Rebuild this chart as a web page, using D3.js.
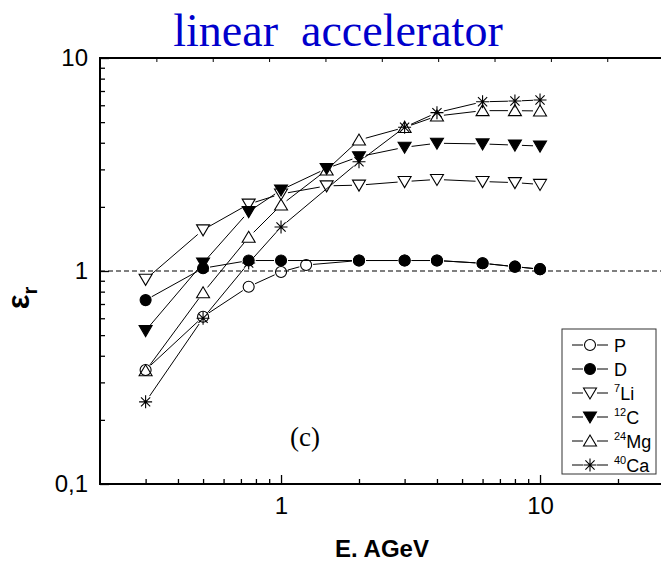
<!DOCTYPE html>
<html lang="en">
<head>
    <meta charset="UTF-8">
    <title>linear accelerator</title>
    <script src="https://d3js.org/d3.v7.min.js"></script>
    <style>
        body { margin: 0; background: #fff; }
        text { font-family: Arial, "Liberation Sans", sans-serif; }
    </style>
</head>
<body>
    <script>
        // energies (AGeV) and ratios per nucleus
        const eP  = [0.3, 0.5, 0.75, 1, 1.25, 2, 3, 4, 6, 8, 10];
        const vP  = [0.343, 0.61, 0.844, 0.99, 1.067, 1.12, 1.12, 1.12, 1.087, 1.048, 1.02];
        const eD  = [0.3, 0.5, 0.75, 1, 2, 3, 4, 6, 8, 10];
        const vD  = [0.73, 1.03, 1.12, 1.12, 1.12, 1.12, 1.12, 1.087, 1.048, 1.02];
        const eLi = [0.3, 0.5, 0.75, 1, 1.5, 2, 3, 4, 6, 8, 10];
        const vLi = [0.914, 1.56, 2.06, 2.30, 2.51, 2.53, 2.63, 2.69, 2.63, 2.60, 2.55];
        const eC  = [0.3, 0.5, 0.75, 1, 1.5, 2, 3, 4, 6, 8, 10];
        const vC  = [0.525, 1.09, 1.90, 2.40, 3.03, 3.44, 3.81, 3.98, 3.95, 3.90, 3.86];
        const eMg = [0.3, 0.5, 0.75, 1, 1.5, 2, 3, 4, 6, 8, 10];
        const vMg = [0.34, 0.79, 1.44, 2.04, 2.98, 4.12, 4.72, 5.34, 5.66, 5.66, 5.64];
        const eCa = [0.3, 0.5, 0.75, 1, 2, 3, 4, 6, 8, 10];
        const vCa = [0.243, 0.60, 1.09, 1.61, 3.26, 4.73, 5.54, 6.23, 6.28, 6.35];

        const seriesNames = ["P", "D", "Li", "C", "Mg", "Ca"];
        const massNumbers = ["", "", "7", "12", "24", "40"];
        const symbols = ["circleOpen", "circleFilled", "downOpen", "downFilled", "upOpen", "star"];

        const xMajor = [1, 10];
        const xMinor = [0.3, 0.4, 0.5, 0.6, 0.7, 0.8, 0.9, 2, 3, 4, 5, 6, 7, 8, 9, 20];
        const yMajor = [0.1, 1, 10];
        const yMinor = [0.2, 0.3, 0.4, 0.5, 0.6, 0.7, 0.8, 0.9, 2, 3, 4, 5, 6, 7, 8, 9];

        const series = [
            {e: eP, v: vP}, {e: eD, v: vD}, {e: eLi, v: vLi},
            {e: eC, v: vC}, {e: eMg, v: vMg}, {e: eCa, v: vCa}
        ].map((s, i) => ({
            name: seriesNames[i], mass: massNumbers[i], sym: symbols[i],
            pts: s.e.map((e, j) => ({e: e, v: s.v[j]}))
        }));

        const width = 661, height = 561;
        const mLeft = 100, mRight = 663.6, mTop = 58, mBottom = 484;

        const svg = d3.select("body").append("svg")
            .attr("width", width)
            .attr("height", height);

        const x = d3.scaleLog().domain([0.2, 30]).range([mLeft, mRight]);
        const y = d3.scaleLog().domain([0.1, 10]).range([mBottom, mTop]);

        // title
        svg.append("text")
            .attr("x", 338).attr("y", 46)
            .attr("text-anchor", "middle")
            .style("font-family", "'Liberation Serif', 'Times New Roman', serif")
            .style("font-size", "46px")
            .style("fill", "#0000cc")
            .style("white-space", "pre")
            .text("linear  accelerator");

        // reference line at 1
        svg.append("line")
            .attr("x1", mLeft).attr("x2", mRight)
            .attr("y1", y(1)).attr("y2", y(1))
            .attr("stroke", "#555")
            .attr("stroke-width", 1.3)
            .attr("stroke-dasharray", "5,3");

        // axes with inward ticks
        const gx = svg.append("g").attr("transform", `translate(0,${mBottom})`);
        gx.call(d3.axisBottom(x).tickValues(xMajor).tickSize(-9).tickPadding(13)
                .tickFormat(d3.format("d")));
        gx.append("g").call(d3.axisBottom(x).tickValues(xMinor).tickSize(-5).tickFormat(""));

        const gy = svg.append("g").attr("transform", `translate(${mLeft},0)`);
        gy.call(d3.axisLeft(y).tickValues(yMajor).tickSize(-9).tickPadding(12)
                .tickFormat(d => d === 0.1 ? "0,1" : d3.format("d")(d)));
        gy.append("g").call(d3.axisLeft(y).tickValues(yMinor).tickSize(-5).tickFormat(""));

        svg.selectAll(".domain").remove();
        svg.selectAll(".tick line").attr("stroke", "#000").attr("stroke-width", 1.3);
        svg.selectAll(".tick text")
            .style("font-size", "24px")
            .style("fill", "#000");

        // top axis: evenly spaced unlabeled ticks
        const xt = d3.scaleLinear().domain([0, 10]).range([mLeft, mRight]);
        svg.append("g").attr("transform", `translate(0,${mTop})`)
            .call(d3.axisTop(xt).tickValues(d3.range(1, 10)).tickSize(-4).tickFormat(""))
            .call(g => g.select(".domain").remove())
            .selectAll("line").attr("stroke", "#000").attr("stroke-width", 1);

        // frame
        svg.append("path")
            .attr("d", `M${mRight},${mTop}H${mLeft}V${mBottom}H${mRight}`)
            .attr("fill", "none")
            .attr("stroke", "#000")
            .attr("stroke-width", 2);

        // markers
        function drawSymbol(g, sym, cx, cy) {
            const r = 5.5;
            if (sym === "circleOpen" || sym === "circleFilled") {
                g.append("circle").attr("cx", cx).attr("cy", cy).attr("r", r)
                    .attr("fill", sym === "circleFilled" ? "#000" : "none")
                    .attr("stroke", "#000").attr("stroke-width", 1.1);
            } else if (sym === "downOpen" || sym === "downFilled") {
                const h = 6.5;
                g.append("path")
                    .attr("d", `M${cx - h},${cy - 5}L${cx + h},${cy - 5}L${cx},${cy + 6}Z`)
                    .attr("fill", sym === "downFilled" ? "#000" : "none")
                    .attr("stroke", "#000").attr("stroke-width", 1.1);
            } else if (sym === "upOpen") {
                const h = 6.5;
                g.append("path")
                    .attr("d", `M${cx - h},${cy + 5}L${cx + h},${cy + 5}L${cx},${cy - 6}Z`)
                    .attr("fill", "none")
                    .attr("stroke", "#000").attr("stroke-width", 1.1);
            } else if (sym === "star") {
                const s = 6.5, d = 4.6;
                g.append("path")
                    .attr("d", `M${cx},${cy - s}V${cy + s}M${cx - s},${cy}H${cx + s}` +
                               `M${cx - d},${cy - d}L${cx + d},${cy + d}M${cx - d},${cy + d}L${cx + d},${cy - d}`)
                    .attr("stroke", "#000").attr("stroke-width", 1.1);
            }
        }

        // connecting lines with small gaps around symbols
        function gapSegments(pts, gap) {
            const segs = [];
            for (let i = 0; i < pts.length - 1; i++) {
                const [x0, y0] = pts[i], [x1, y1] = pts[i + 1];
                const len = Math.hypot(x1 - x0, y1 - y0);
                if (len <= 2 * gap) continue;
                const ux = (x1 - x0) / len, uy = (y1 - y0) / len;
                segs.push([[x0 + ux * gap, y0 + uy * gap], [x1 - ux * gap, y1 - uy * gap]]);
            }
            return segs;
        }

        const plot = svg.append("g");
        series.forEach(s => {
            const g = plot.append("g");
            const px = s.pts.map(p => [x(p.e), y(p.v)]);
            g.selectAll("line")
                .data(gapSegments(px, 7))
                .enter().append("line")
                .attr("x1", d => d[0][0]).attr("y1", d => d[0][1])
                .attr("x2", d => d[1][0]).attr("y2", d => d[1][1])
                .attr("stroke", "#000").attr("stroke-width", 1);
            s.pts.forEach(p => drawSymbol(g, s.sym, x(p.e), y(p.v)));
        });

        // panel label
        svg.append("text")
            .attr("x", 305).attr("y", 446)
            .attr("text-anchor", "middle")
            .style("font-family", "'Liberation Serif', 'Times New Roman', serif")
            .style("font-size", "27px")
            .text("(c)");

        // legend
        const lg = svg.append("g");
        lg.append("rect")
            .attr("x", 562).attr("y", 329)
            .attr("width", 94).attr("height", 145)
            .attr("fill", "#fff").attr("stroke", "#333").attr("stroke-width", 1);
        series.forEach((s, i) => {
            const ly = 345 + i * 24;
            lg.append("line").attr("x1", 572).attr("x2", 583).attr("y1", ly).attr("y2", ly)
                .attr("stroke", "#000");
            lg.append("line").attr("x1", 597).attr("x2", 608).attr("y1", ly).attr("y2", ly)
                .attr("stroke", "#000");
            drawSymbol(lg, s.sym, 590, ly);
            const t = lg.append("text")
                .attr("x", 614).attr("y", ly + 7)
                .style("font-size", "18px");
            if (s.mass) {
                t.append("tspan").attr("dy", -8).style("font-size", "11px").text(s.mass);
                t.append("tspan").attr("dy", 8).text(s.name);
            } else {
                t.text(s.name);
            }
        });

        // axis titles
        svg.append("text")
            .attr("x", 382).attr("y", 557)
            .attr("text-anchor", "middle")
            .style("font-size", "24px")
            .style("font-weight", "bold")
            .text("E. AGeV");

        const yt = svg.append("text")
            .attr("transform", "translate(29,298) rotate(-90)")
            .attr("text-anchor", "middle")
            .style("font-size", "31px")
            .style("font-weight", "bold");
        yt.append("tspan").text("ε");
        yt.append("tspan").attr("dy", 8).style("font-size", "20px").text("r");
    </script>
</body>
</html>
